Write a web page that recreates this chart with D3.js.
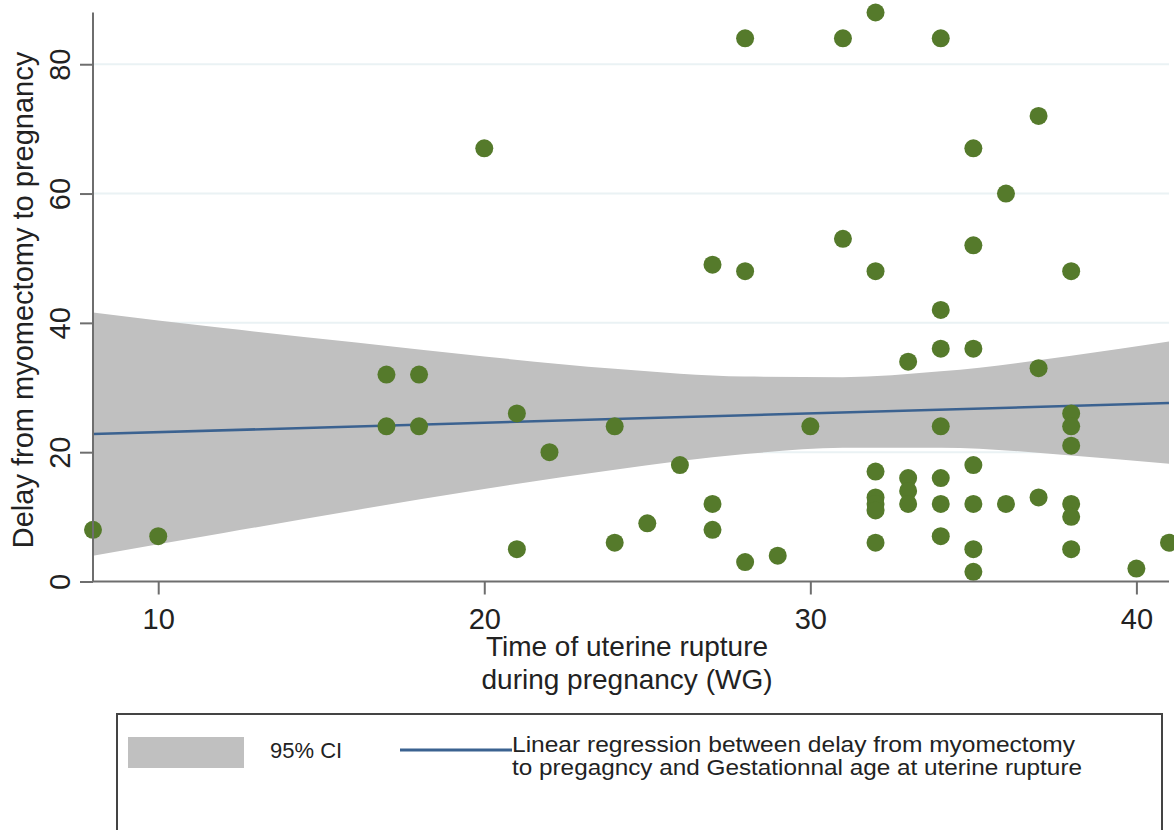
<!DOCTYPE html>
<html>
<head>
<meta charset="utf-8">
<script src="https://cdn.jsdelivr.net/npm/d3@7"></script>
<style>
  html, body { margin: 0; padding: 0; background: #ffffff; }
  svg { display: block; font-family: "Liberation Sans", Arial, sans-serif; }
</style>
</head>
<body>
<svg id="chart" width="1174" height="830"></svg>
<script>
// rupture week (x) and delay in months (y)
const weeks = [
  8, 10, 17, 17, 18, 18, 20, 21, 21, 22, 24, 24, 25, 26,
  27, 27, 27, 28, 28, 28, 29, 30, 31, 31,
  32, 32, 32, 32, 32, 32, 32,
  33, 33, 33, 33,
  34, 34, 34, 34, 34, 34, 34,
  35, 35, 35, 35, 35, 35, 35,
  36, 36, 37, 37, 37,
  38, 38, 38, 38, 38, 38, 38,
  40, 41
];
const delays = [
  8, 7, 32, 24, 32, 24, 67, 26, 5, 20, 24, 6, 9, 18,
  49, 12, 8, 84, 48, 3, 4, 24, 84, 53,
  88, 48, 17, 13, 12, 11, 6,
  34, 16, 14, 12,
  84, 42, 36, 24, 16, 12, 7,
  67, 52, 36, 18, 12, 5, 1.5,
  60, 12, 72, 33, 13,
  48, 26, 24, 21, 12, 10, 5,
  2, 6
];

// 95% CI band edges, estimated along x
const bandX = [8, 12, 16, 20, 24, 28, 31, 34, 38, 41];
const bandUpper = [41.6, 39.2, 37.0, 34.8, 32.9, 31.7, 31.6, 32.5, 34.9, 37.1];
const bandLower = [4.0, 7.5, 11.0, 14.3, 17.3, 19.7, 20.7, 20.7, 19.5, 18.2];

// fitted line ends
const fitX = [8, 41];
const fitY = [22.8, 27.6];

const xTicks = [10, 20, 30, 40];
const yTicks = [0, 20, 40, 60, 80];

const colors = { point: "#557a2b", band: "#c0c0c0", fit: "#3b6290", axis: "#6e6e6e", grid: "#eaf2f4" };

const svg = d3.select("#chart");
const plot = { left: 93, right: 1169, top: 12.5, bottom: 581.5 };

const x = d3.scaleLinear().domain([8, 41]).range([plot.left, plot.right]);
const y = d3.scaleLinear().domain([0, 88]).range([plot.bottom, plot.top]);

// grid
svg.append("g")
  .selectAll("line")
  .data(yTicks.filter((d) => d > 0))
  .join("line")
  .attr("x1", plot.left)
  .attr("x2", plot.right)
  .attr("y1", (d) => y(d))
  .attr("y2", (d) => y(d))
  .attr("stroke", colors.grid)
  .attr("stroke-width", 2);

// CI band
const band = bandX.map((v, i) => ({ x: v, lo: bandLower[i], hi: bandUpper[i] }));
svg.append("path")
  .datum(band)
  .attr("fill", colors.band)
  .attr("d", d3.area()
    .x((d) => x(d.x))
    .y0((d) => y(d.lo))
    .y1((d) => y(d.hi))
    .curve(d3.curveMonotoneX));

// regression line
svg.append("path")
  .datum(fitX.map((v, i) => [v, fitY[i]]))
  .attr("fill", "none")
  .attr("stroke", colors.fit)
  .attr("stroke-width", 2.5)
  .attr("d", d3.line().x((d) => x(d[0])).y((d) => y(d[1])));

// points
svg.append("g")
  .selectAll("circle")
  .data(weeks.map((w, i) => [w, delays[i]]))
  .join("circle")
  .attr("cx", (d) => x(d[0]))
  .attr("cy", (d) => y(d[1]))
  .attr("r", 9)
  .attr("fill", colors.point);

// y axis
svg.append("g")
  .attr("transform", `translate(${plot.left},0)`)
  .call(d3.axisLeft(y).tickValues(yTicks).tickSize(13).tickPadding(23))
  .call((g) => g.select(".domain").attr("d", `M0,${plot.top}V${plot.bottom}`))
  .call((g) => g.selectAll("path, line").attr("stroke", colors.axis).attr("stroke-width", 2))
  .call((g) => g.selectAll("text")
    .attr("x", 0)
    .attr("y", -23)
    .attr("dy", 0)
    .attr("transform", "rotate(-90)")
    .attr("text-anchor", "middle")
    .attr("fill", "#222")
    .attr("font-size", 29)
    .attr("font-family", "Liberation Sans, Arial, sans-serif"));

// x axis
svg.append("g")
  .attr("transform", `translate(0,${plot.bottom})`)
  .call(d3.axisBottom(x).tickValues(xTicks).tickSize(13).tickPadding(6))
  .call((g) => g.select(".domain").attr("d", `M${plot.left},0H${plot.right}`))
  .call((g) => g.selectAll("path, line").attr("stroke", colors.axis).attr("stroke-width", 2))
  .call((g) => g.selectAll("text")
    .attr("dy", 0)
    .attr("y", 47)
    .attr("fill", "#222")
    .attr("font-size", 29)
    .attr("font-family", "Liberation Sans, Arial, sans-serif"));

// axis titles
svg.append("text")
  .attr("transform", "translate(33,300) rotate(-90)")
  .attr("text-anchor", "middle")
  .attr("font-size", 29)
  .attr("fill", "#222")
  .text("Delay from myomectomy to pregnancy");

const xTitle = svg.append("text")
  .attr("text-anchor", "middle")
  .attr("font-size", 28)
  .attr("fill", "#222");
xTitle.append("tspan").attr("x", 627).attr("y", 656).text("Time of uterine rupture");
xTitle.append("tspan").attr("x", 627).attr("y", 689).text("during pregnancy (WG)");

// legend
const legend = svg.append("g");
legend.append("rect")
  .attr("x", 117).attr("y", 714).attr("width", 1045).attr("height", 140)
  .attr("fill", "#fff").attr("stroke", "#444").attr("stroke-width", 2);
legend.append("rect")
  .attr("x", 128).attr("y", 737).attr("width", 116).attr("height", 31)
  .attr("fill", colors.band);
legend.append("text")
  .attr("x", 270).attr("y", 758)
  .attr("font-size", 22).attr("fill", "#222")
  .text("95% CI");
legend.append("line")
  .attr("x1", 400).attr("x2", 512).attr("y1", 750).attr("y2", 750)
  .attr("stroke", colors.fit).attr("stroke-width", 3);
legend.append("text")
  .attr("x", 512).attr("y", 752)
  .attr("font-size", 22).attr("fill", "#222")
  .attr("textLength", 563).attr("lengthAdjust", "spacingAndGlyphs")
  .text("Linear regression between delay from myomectomy");
legend.append("text")
  .attr("x", 512).attr("y", 775)
  .attr("font-size", 22).attr("fill", "#222")
  .attr("textLength", 570).attr("lengthAdjust", "spacingAndGlyphs")
  .text("to pregagncy and Gestationnal age at uterine rupture");
</script>
</body>
</html>
